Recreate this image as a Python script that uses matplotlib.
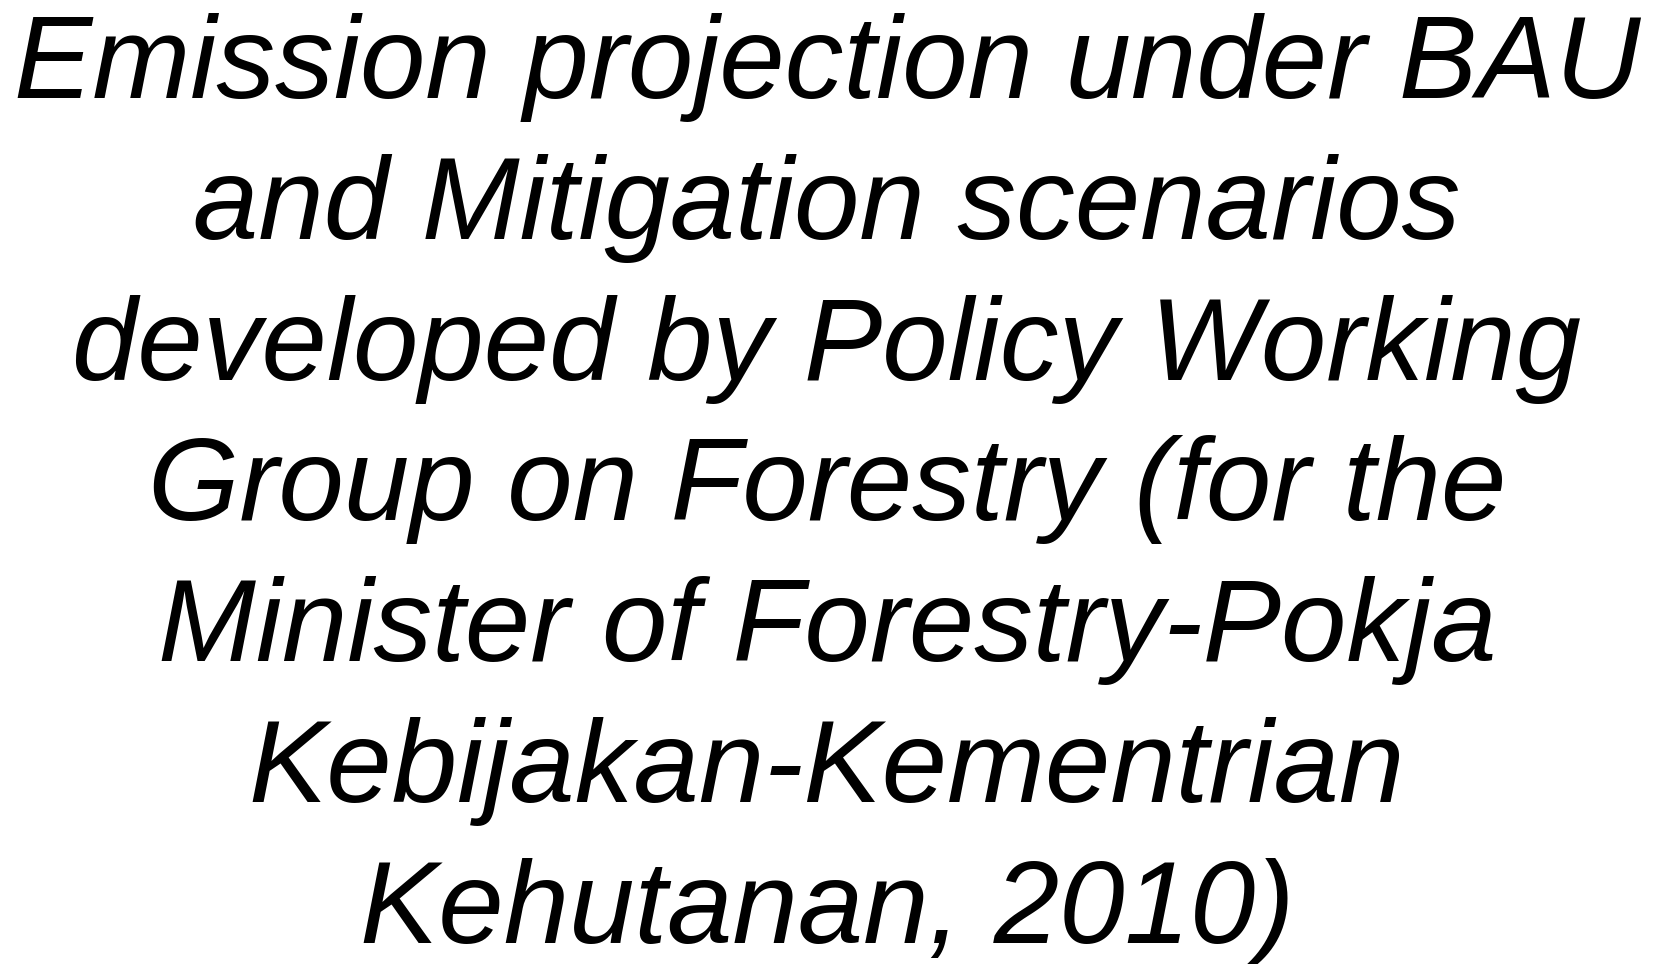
import matplotlib
matplotlib.use("Agg")
from matplotlib import pyplot as plt

# title lines of the slide
TITLE_LINES = [
    "Emission projection under BAU",
    "and Mitigation scenarios",
    "developed by Policy Working",
    "Group on Forestry (for the",
    "Minister of Forestry-Pokja",
    "Kebijakan-Kementrian",
    "Kehutanan, 2010)",
]

W, H = 1654, 964
FIRST_BASE = 98
LINE_STEP = 140.8

fig = plt.figure(figsize=(W / 100, H / 100), dpi=100)
fig.patch.set_facecolor("white")

for i, line in enumerate(TITLE_LINES):
    y = 1 - (FIRST_BASE + i * LINE_STEP) / H
    fig.text(0.5, y, line, ha="center", va="baseline",
             fontsize=84.6, fontstyle="italic",
             family=["Liberation Sans", "DejaVu Sans"], color="black")

fig.savefig("out.png", dpi=100, facecolor="white")
